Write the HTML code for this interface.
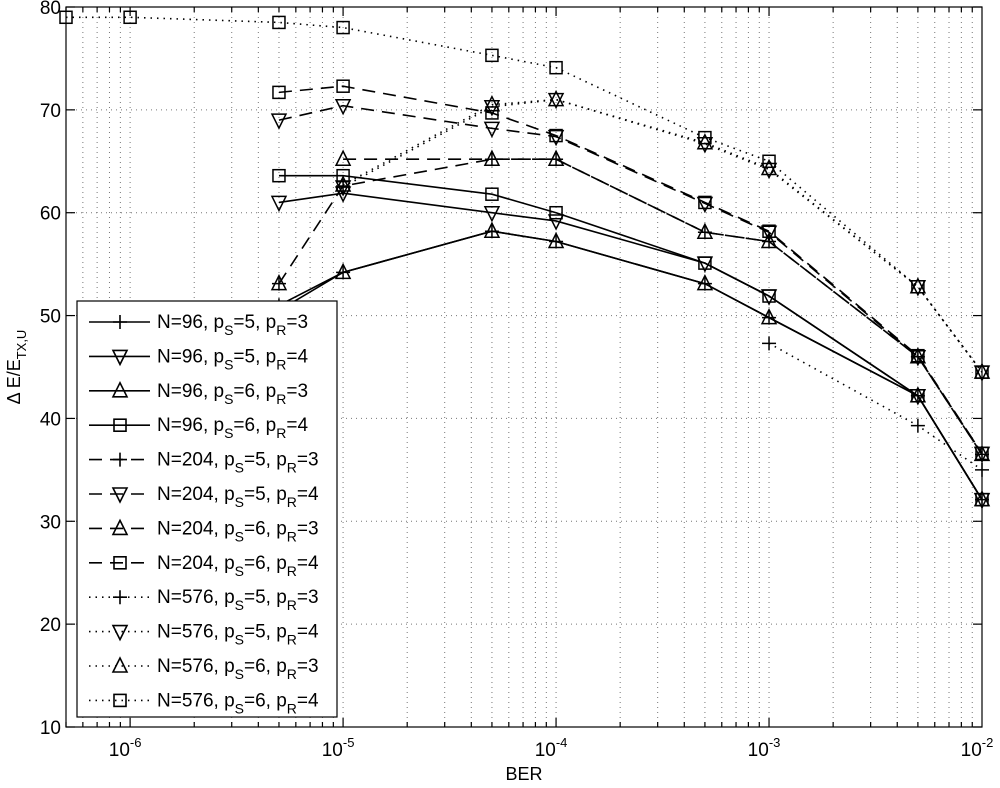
<!DOCTYPE html>
<html><head><meta charset="utf-8"><style>
body{margin:0;background:#fff;}
svg{font-family:"Liberation Sans",sans-serif;}
</style></head><body>
<svg id="chart" width="1000" height="783" viewBox="0 0 1000 783"></svg>
<script>
const xCats=[5e-7,1e-6,5e-6,1e-5,5e-5,1e-4,5e-4,1e-3,5e-3,1e-2];
const seriesLabels=["N=96|5|3","N=96|5|4","N=96|6|3","N=96|6|4","N=204|5|3","N=204|5|4","N=204|6|3","N=204|6|4","N=576|5|3","N=576|5|4","N=576|6|3","N=576|6|4"];
const s1=[null,null,51,54.2,58.2,57.2,53.1,49.8,42.2,32.1];
const s2=[null,null,61,61.9,60,59.2,55.1,51.9,42.2,32.1];
const s3=[null,null,50.5,54.2,58.2,57.2,53.1,49.8,42.2,32.1];
const s4=[null,null,63.6,63.6,61.8,60,55.1,51.9,42.2,32.1];
const s5=[null,null,53.1,62.6,65.2,65.2,58.1,57.2,46,36.5];
const s6=[null,null,69,70.4,68.2,67.4,60.9,58.1,46,36.6];
const s7=[null,null,null,65.2,65.2,65.2,58.1,57.2,46,36.5];
const s8=[null,null,71.7,72.3,69.7,67.5,61,58.2,46.1,36.6];
const s9=[null,null,null,null,null,null,null,47.3,39.3,35];
const s10=[null,null,null,62.5,70.3,71,66.7,64.2,52.8,44.5];
const s11=[null,null,null,62.7,70.5,71,66.8,64.3,52.8,44.5];
const s12=[79,79,78.5,78,75.3,74.1,67.3,65,52.8,44.5];
const yTicks=[10,20,30,40,50,60,70,80];
const xTickExp=[-6,-5,-4,-3,-2];
const seriesValues=[s1,s2,s3,s4,s5,s6,s7,s8,s9,s10,s11,s12];
const markers=["plus","down","up","square","plus","down","up","square","plus","down","up","square"];
const dashes=["","","","","13,8","13,8","13,8","13,8","1.5,5","1.5,5","1.5,5","1.5,5"];

const L=66,R=982,T=7,B=727,xmin=Math.log10(5e-7),xmax=-2;
const X=v=>L+(Math.log10(v)-xmin)/(xmax-xmin)*(R-L);
const Y=v=>B-(v-10)/70*(B-T);
const svg=document.getElementById('chart');
const NS="http://www.w3.org/2000/svg";
function mk(t,a,p){const e=document.createElementNS(NS,t);for(const k in a)e.setAttribute(k,a[k]);(p||svg).appendChild(e);return e;}

const grid=mk('g',{stroke:'#777','stroke-width':1,'stroke-dasharray':'1,4'});


for(let e=-7;e<=-3;e++)for(let m=1;m<10;m++){const v=m*Math.pow(10,e);if(v<5e-7*0.999||v>1e-2*1.001)continue;const x=X(v);if(Math.abs(x-L)<1||Math.abs(x-R)<1)continue;mk('line',{x1:x,x2:x,y1:T,y2:B},grid);}
yTicks.forEach(v=>{if(v>10&&v<80)mk('line',{x1:L,x2:R,y1:Y(v),y2:Y(v)},grid);});

const ax=mk('g',{stroke:'#000','stroke-width':1.2,fill:'none'});


mk('rect',{x:L,y:T,width:R-L,height:B-T},ax);
for(let e=-7;e<=-3;e++)for(let m=1;m<10;m++){const v=m*Math.pow(10,e);if(v<5e-7||v>1e-2*1.001)continue;const x=X(v);const len=m==1?9:5;
mk('line',{x1:x,x2:x,y1:B,y2:B-len},ax);mk('line',{x1:x,x2:x,y1:T,y2:T+len},ax);}
yTicks.forEach(v=>{mk('line',{x1:L,x2:L+9,y1:Y(v),y2:Y(v)},ax);mk('line',{x1:R,x2:R-9,y1:Y(v),y2:Y(v)},ax);});

yTicks.forEach(v=>{const t=mk('text',{x:L-5,y:Y(v)+7,'text-anchor':'end','font-size':19});t.textContent=v;

});
xTickExp.forEach(e=>{const t=mk('text',{x:X(Math.pow(10,e))-5,y:756,'text-anchor':'middle','font-size':19});
t.innerHTML='10<tspan dy="-9" font-size="13">'+e+'</tspan>';

});
const xt=mk('text',{x:524,y:780,'text-anchor':'middle','font-size':18});xt.textContent='BER';


const yt=mk('text',{x:0,y:0,'text-anchor':'middle','font-size':18,transform:'translate(20,367) rotate(-90)'});
yt.innerHTML='Δ E/E<tspan dy="6" font-size="13">TX,U</tspan>';



function marker(type,x,y,p){const s=7;let e;
if(type=='plus')e=mk('path',{d:`M${x-s} ${y}H${x+s}M${x} ${y-s}V${y+s}`},p);
else if(type=='down')e=mk('path',{d:`M${x-s} ${y-s+1}H${x+s}L${x} ${y+s+1}Z`},p);
else if(type=='up')e=mk('path',{d:`M${x-s} ${y+s-1}H${x+s}L${x} ${y-s-1}Z`},p);
else e=mk('rect',{x:x-6,y:y-6,width:12,height:12},p);
return e;}

seriesValues.forEach((vals,i)=>{
const g=mk('g',{stroke:'#000',fill:'none','stroke-width':1.6});


const pts=[];vals.forEach((v,j)=>{if(v!=null)pts.push([X(xCats[j]),Y(v)]);});
const ln=mk('polyline',{points:pts.map(p=>p.join(',')).join(' ')},g);
if(dashes[i])ln.setAttribute('stroke-dasharray',dashes[i]);
pts.forEach(p=>{const m=marker(markers[i],p[0],p[1],g);m.setAttribute('stroke-width',1.5);});
});
// triangle marker of N=204 pS=6 pR=3 at 5e-6
marker('up',X(5e-6),Y(53.1),mk('g',{stroke:'#000',fill:'none','stroke-width':1.5}));

const lg=mk('g',{});


mk('rect',{x:77,y:301,width:260,height:416,fill:'#fff',stroke:'#000','stroke-width':1.2},lg);
seriesLabels.forEach((lab,i)=>{const y=322+i*34.4;
const e=mk('g',{stroke:'#000',fill:'none','stroke-width':1.6},lg);


const l=mk('line',{x1:89,x2:150,y1:y,y2:y},e);if(dashes[i])l.setAttribute('stroke-dasharray',dashes[i]);
marker(markers[i],120,y,e);
const p=lab.split('|');
const t=mk('text',{x:157,y:y+6,'font-size':19,fill:'#000',stroke:'none'},e);
t.innerHTML=p[0]+', p<tspan dy="7" font-size="14">S</tspan><tspan dy="-7">='+p[1]+', p</tspan><tspan dy="7" font-size="14">R</tspan><tspan dy="-7">='+p[2]+'</tspan>';
});
</script>
</body></html>
